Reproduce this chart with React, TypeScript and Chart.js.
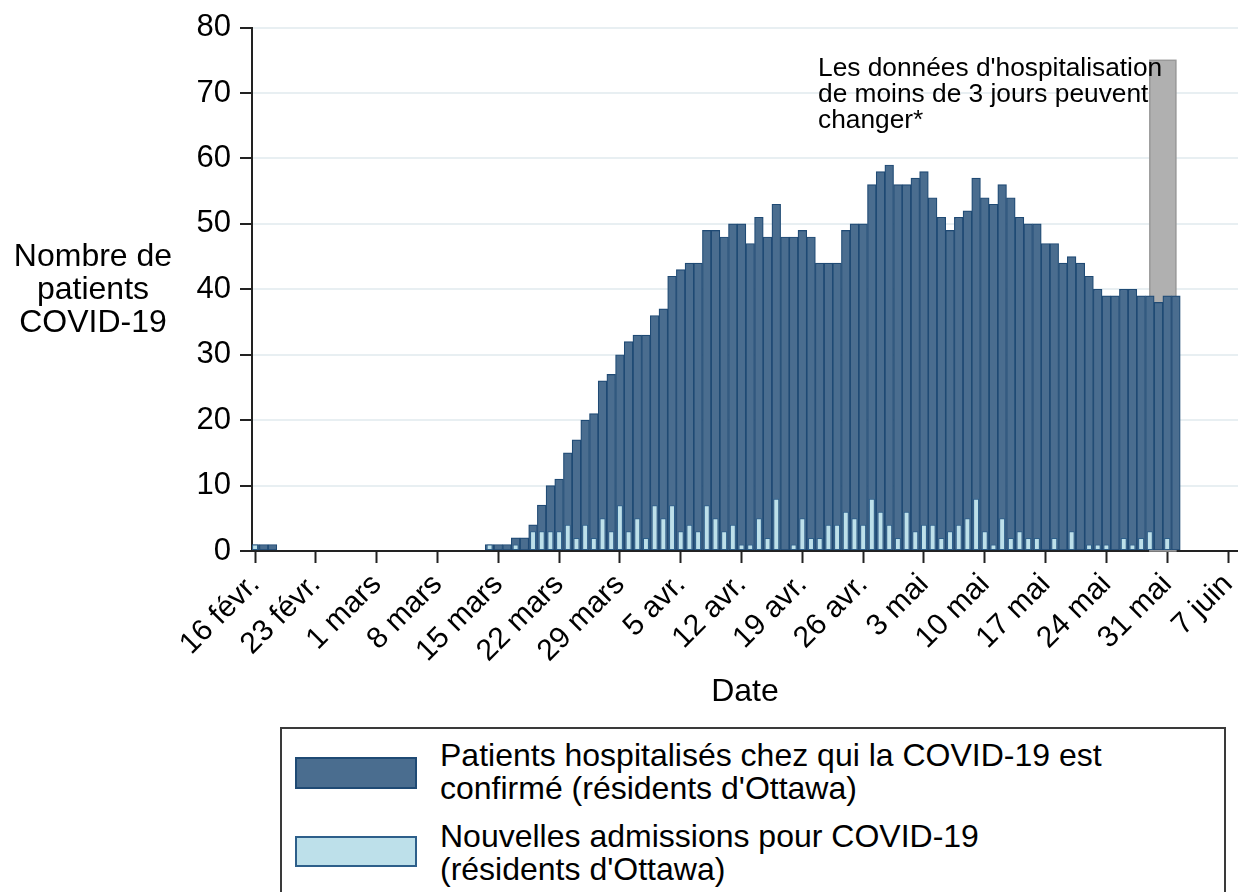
import React, { useEffect, useRef } from "react";
import { Chart, registerables } from "chart.js";

Chart.register(...registerables);

const FONT = "'Liberation Sans', Arial, Helvetica, sans-serif";

// Day 0 = 16 févr.; one value per day up to 1 juin (day 106)
const hospitalized = [
  1, 1, 1,
  0, 0, 0, 0, 0, 0, 0, 0, 0, 0, 0, 0, 0, 0, 0, 0, 0, 0, 0, 0, 0, 0, 0, 0,
  // 14 mars - 31 mars
  1, 1, 1, 2, 2, 4, 7, 10, 11, 15, 17, 20, 21, 26, 27, 30, 32, 33,
  // avril
  33, 36, 37, 42, 43, 44, 44, 49, 49, 48,
  50, 50, 47, 51, 48, 53, 48, 48, 49, 48,
  44, 44, 44, 49, 50, 50, 56, 58, 59, 56,
  // mai
  56, 57, 58, 54, 51, 49, 51, 52, 57, 54,
  53, 56, 54, 51, 50, 50, 47, 47, 44, 45,
  44, 42, 40, 39, 39, 40, 40, 39, 39, 38,
  39,
  // 1 juin
  39,
];

const newAdmissions = [
  1, 0, 0,
  0, 0, 0, 0, 0, 0, 0, 0, 0, 0, 0, 0, 0, 0, 0, 0, 0, 0, 0, 0, 0, 0, 0, 0,
  // 14 mars - 31 mars
  1, 0, 0, 1, 0, 3, 3, 3, 3, 4, 2, 4, 2, 5, 3, 7, 3, 5,
  // avril
  2, 7, 5, 7, 3, 4, 3, 7, 5, 3,
  4, 1, 1, 5, 2, 8, 0, 1, 5, 2,
  2, 4, 4, 6, 5, 4, 8, 6, 4, 2,
  // mai
  6, 3, 4, 4, 2, 3, 4, 5, 8, 3,
  1, 5, 2, 3, 2, 2, 0, 2, 0, 3,
  0, 1, 1, 1, 0, 2, 1, 2, 3, 0,
  2,
  // 1 juin
  0,
];

const tickDays = [0, 7, 14, 21, 28, 35, 42, 49, 56, 63, 70, 77, 84, 91, 98, 105, 112];
const tickLabels = [
  "16 févr.", "23 févr.", "1 mars", "8 mars", "15 mars", "22 mars", "29 mars",
  "5 avr.", "12 avr.", "19 avr.", "26 avr.", "3 mai", "10 mai", "17 mai",
  "24 mai", "31 mai", "7 juin",
];
const xRange = [-0.35, 113.15];
const yRange = [0, 80];
const yStep = 10;

// shaded "data may change" zone (day indices) and its height
const shadedDays = [103, 106];
const shadedTop = 75;

const annotationLines = [
  "Les données d'hospitalisation",
  "de moins de 3 jours peuvent",
  "changer*",
];
const yTitleLines = ["Nombre de", "patients", "COVID-19"];
const xTitle = "Date";
const legendLabels = [
  ["Patients hospitalisés chez qui la COVID-19 est", "confirmé (résidents d'Ottawa)"],
  ["Nouvelles admissions pour COVID-19", "(résidents d'Ottawa)"],
];

const DARK_FILL = "#4a6d8f";
const DARK_BORDER = "#1f4a74";
const LIGHT_FILL = "#bde0ea";
const LIGHT_BORDER = "#2d5f8a";

const CANVAS_W = 1238;
const CANVAS_H = 720;

const overlayPlugin = {
  id: "overlay",
  beforeDatasetsDraw(chart: any) {
    const { ctx, scales } = chart;
    const x = scales.x;
    const y = scales.y;
    const x0 = x.getPixelForValue(shadedDays[0]);
    const x1 = x.getPixelForValue(shadedDays[1]);
    const y0 = y.getPixelForValue(0);
    const y1 = y.getPixelForValue(shadedTop);
    ctx.save();
    ctx.fillStyle = "#b0b0b0";
    ctx.fillRect(x0, y1, x1 - x0, y0 - y1);
    ctx.strokeStyle = "#999999";
    ctx.lineWidth = 1.5;
    ctx.strokeRect(x0, y1, x1 - x0, y0 - y1);
    ctx.restore();
  },
  afterDraw(chart: any) {
    const { ctx, chartArea } = chart;
    ctx.save();
    ctx.fillStyle = "#000";
    ctx.textBaseline = "alphabetic";
    // annotation
    ctx.font = `26.3px ${FONT}`;
    ctx.textAlign = "left";
    annotationLines.forEach((t, i) => ctx.fillText(t, 818, 76 + i * 26));
    // y title
    ctx.font = `32px ${FONT}`;
    ctx.textAlign = "center";
    yTitleLines.forEach((t, i) => ctx.fillText(t, 93, 266 + i * 33));
    // x title
    ctx.fillText(xTitle, (chartArea.left + chartArea.right) / 2, 701);
    ctx.restore();
  },
};

export default function App() {
  const ref = useRef<HTMLCanvasElement | null>(null);

  useEffect(() => {
    if (!ref.current) return;
    const chart = new Chart(ref.current, {
      type: "bar",
      data: {
        datasets: [
          {
            label: legendLabels[1].join(" "),
            data: newAdmissions.map((v, i) => ({ x: i, y: v })),
            backgroundColor: LIGHT_FILL,
            borderColor: LIGHT_BORDER,
            borderWidth: 1,
            borderSkipped: false,
            grouped: false,
            barPercentage: 0.68,
            categoryPercentage: 1,
            order: 0,
          } as any,
          {
            label: legendLabels[0].join(" "),
            data: hospitalized.map((v, i) => ({ x: i, y: v })),
            backgroundColor: DARK_FILL,
            borderColor: DARK_BORDER,
            borderWidth: 1.2,
            borderSkipped: false,
            grouped: false,
            barPercentage: 1,
            categoryPercentage: 1,
            order: 1,
          } as any,
        ],
      },
      options: {
        animation: false,
        responsive: false,
        maintainAspectRatio: false,
        layout: { padding: { top: 27, left: 0, right: 0, bottom: 0 } },
        plugins: {
          legend: { display: false },
          tooltip: { enabled: false },
          title: { display: false },
        },
        scales: {
          x: {
            type: "linear",
            offset: false,
            min: xRange[0],
            max: xRange[1],
            z: 1,
            grid: {
              offset: false,
              drawOnChartArea: false,
              drawTicks: true,
              tickLength: 12,
              tickColor: "#222",
              tickWidth: 2,
            },
            border: { display: true, color: "#222", width: 2 },
            ticks: {
              autoSkip: false,
              maxRotation: 45,
              minRotation: 45,
              padding: 4,
              color: "#000",
              font: { family: FONT, size: 30 },
              callback: (_v: any, idx: number) => tickLabels[idx],
            },
            afterBuildTicks: (scale: any) => {
              scale.ticks = tickDays.map((v) => ({ value: v }));
            },
            afterFit: (scale: any) => {
              scale.height = CANVAS_H - 551;
              scale.paddingLeft = 0;
              scale.paddingRight = 0;
            },
          } as any,
          y: {
            type: "linear",
            min: yRange[0],
            max: yRange[1],
            grid: {
              color: "#e8eff2",
              lineWidth: 2,
              drawTicks: true,
              tickLength: 12,
              tickColor: "#222",
              tickWidth: 2,
            },
            border: { display: true, color: "#222", width: 2 },
            ticks: {
              stepSize: yStep,
              padding: 9,
              color: "#000",
              font: { family: FONT, size: 31 },
            },
            afterFit: (scale: any) => {
              scale.width = 252;
            },
          } as any,
        },
      },
      plugins: [overlayPlugin],
    });
    return () => chart.destroy();
  }, []);

  const textStyle: React.CSSProperties = {
    position: "absolute",
    left: 440,
    fontFamily: FONT,
    fontSize: 32,
    lineHeight: "33px",
    color: "#000",
    whiteSpace: "nowrap",
  };

  return (
    <div
      style={{
        position: "fixed",
        left: 0,
        top: 0,
        width: CANVAS_W,
        height: 892,
        background: "#fff",
        overflow: "hidden",
      }}
    >
      <canvas
        ref={ref}
        width={CANVAS_W}
        height={CANVAS_H}
        style={{ position: "absolute", left: 0, top: 0, width: CANVAS_W, height: CANVAS_H }}
      />
      <div
        style={{
          position: "absolute",
          left: 280,
          top: 727,
          width: 946,
          height: 200,
          border: "2px solid #3a3a3a",
          boxSizing: "border-box",
        }}
      />
      <div
        style={{
          position: "absolute",
          left: 295,
          top: 757,
          width: 122,
          height: 32,
          background: DARK_FILL,
          border: `2px solid ${DARK_BORDER}`,
          boxSizing: "border-box",
        }}
      />
      <div
        style={{
          position: "absolute",
          left: 295,
          top: 836,
          width: 122,
          height: 31,
          background: LIGHT_FILL,
          border: `2px solid ${LIGHT_BORDER}`,
          boxSizing: "border-box",
        }}
      />
      <div style={{ ...textStyle, top: 739 }}>
        {legendLabels[0][0]}
        <br />
        {legendLabels[0][1]}
      </div>
      <div style={{ ...textStyle, top: 820 }}>
        {legendLabels[1][0]}
        <br />
        {legendLabels[1][1]}
      </div>
    </div>
  );
}
